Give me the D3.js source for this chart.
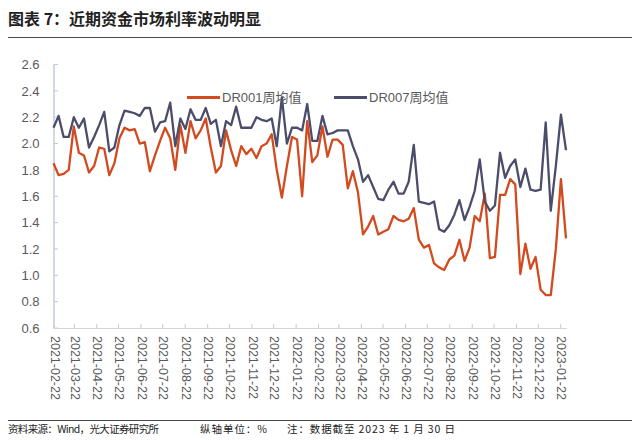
<!DOCTYPE html>
<html>
<head>
<meta charset="utf-8">
<script src="https://cdn.jsdelivr.net/npm/d3@7"></script>
<style>
  body { margin: 0; background: #fff; }
  text { font-family: "Liberation Sans", Arial, "Noto Sans CJK SC", sans-serif; }
</style>
</head>
<body>
<div id="chart"></div>
<script>

// weekly averages, first week 2021-02-22, one value per week
var firstWeek = "2021-02-22";

var dr001 = [1.85, 1.76, 1.77, 1.80, 2.13, 1.93, 1.91, 1.78, 1.83, 1.97,
             1.96, 1.76, 1.85, 2.04, 2.12, 2.10, 2.11, 2.00, 2.01, 1.79,
             1.91, 2.02, 2.12, 2.04, 1.80, 2.14, 1.93, 2.17, 2.04, 2.10,
             2.19, 1.97, 1.78, 1.83, 2.10, 1.95, 1.83, 1.98, 1.92, 1.96,
             1.89, 1.98, 2.00, 2.07, 1.80, 1.59, 1.83, 2.05, 2.03, 1.60,
             2.17, 1.86, 1.91, 2.13, 1.90, 2.03, 2.03, 1.99, 1.66, 1.79,
             1.63, 1.31, 1.37, 1.45, 1.31, 1.33, 1.35, 1.45, 1.42, 1.41,
             1.43, 1.51, 1.27, 1.21, 1.23, 1.09, 1.06, 1.04, 1.12, 1.15,
             1.27, 1.11, 1.21, 1.45, 1.41, 1.62, 1.13, 1.14, 1.61, 1.61,
             1.73, 1.69, 1.01, 1.24, 1.05, 1.14, 0.89, 0.85, 0.85, 1.20,
             1.73, 1.28];

var dr007 = [2.12, 2.21, 2.05, 2.05, 2.20, 2.12, 2.19, 1.97, 2.05, 2.14,
             2.24, 1.94, 1.97, 2.14, 2.25, 2.24, 2.23, 2.21, 2.27, 2.27,
             2.09, 2.16, 2.17, 2.31, 1.98, 2.19, 2.11, 2.26, 2.18, 2.18,
             2.27, 2.15, 2.18, 1.98, 2.17, 2.14, 2.28, 2.12, 2.12, 2.12,
             2.20, 2.18, 2.17, 2.19, 1.98, 2.35, 2.00, 2.12, 2.12, 2.10,
             2.30, 2.02, 2.02, 2.21, 2.07, 2.08, 2.10, 2.10, 2.10, 1.98,
             1.88, 1.71, 1.76, 1.67, 1.58, 1.57, 1.65, 1.71, 1.62, 1.62,
             1.71, 1.99, 1.56, 1.55, 1.54, 1.56, 1.35, 1.33, 1.38, 1.46,
             1.57, 1.42, 1.52, 1.64, 1.88, 1.56, 1.49, 1.53, 1.93, 1.74,
             1.83, 1.88, 1.67, 1.81, 1.65, 1.64, 1.65, 2.16, 1.49, 1.83,
             2.22, 1.95];

var tickLabels = ["2021-02-22", "2021-03-22", "2021-04-22", "2021-05-22", "2021-06-22",
                  "2021-07-22", "2021-08-22", "2021-09-22", "2021-10-22", "2021-11-22",
                  "2021-12-22", "2022-01-22", "2022-02-22", "2022-03-22", "2022-04-22",
                  "2022-05-22", "2022-06-22", "2022-07-22", "2022-08-22", "2022-09-22",
                  "2022-10-22", "2022-11-22", "2022-12-22", "2023-01-22"];

var yTicks = [0.6, 0.8, 1.0, 1.2, 1.4, 1.6, 1.8, 2.0, 2.2, 2.4, 2.6];

var seriesNames = ["DR001周均值", "DR007周均值"];
var colors = ["#d24a1e", "#4b4d6b"];

var title = "图表 7：近期资金市场利率波动明显";
var source = "资料来源：Wind，光大证券研究所";
var unit = "纵轴单位：%";
var note = "注：数据截至 2023 年 1 月 30 日";

var parse = d3.timeParse("%Y-%m-%d");
var start = parse(firstWeek);
var dates = dr001.map(function(d, i) { return d3.timeDay.offset(start, i * 7); });

var width = 640, height = 440;

var svg = d3.select("#chart")
  .append("svg")
    .attr("width", width)
    .attr("height", height);

// header
svg.append("text")
    .attr("x", 8)
    .attr("y", 25)
    .style("font-size", "16px")
    .style("font-weight", "bold")
    .style("font-family", "'Noto Sans CJK SC', sans-serif")
    .attr("fill", "#222")
    .text(title);

svg.append("line")
    .attr("x1", 8).attr("x2", 632)
    .attr("y1", 37.5).attr("y2", 37.5)
    .attr("stroke", "#4a4a4a")
    .attr("stroke-width", 1.2);

// scales
var x = d3.scaleTime()
    .domain([start, dates[dates.length - 1]])
    .range([53.5, 566]);

var y = d3.scaleLinear()
    .domain([0.6, 2.6])
    .range([328, 64.5]);

// y axis
var yAxis = svg.append("g")
    .attr("transform", "translate(53.5,0)")
    .call(d3.axisLeft(y).tickValues(yTicks).tickFormat(d3.format(".1f")).tickSize(0).tickPadding(14));
yAxis.select(".domain").attr("stroke", "#9fb4cc").attr("stroke-width", 1);
yAxis.selectAll("text")
    .attr("fill", "#595959")
    .style("font-size", "13px");

svg.append("g")
  .selectAll("line")
  .data(yTicks)
  .enter()
  .append("line")
    .attr("x1", 53.5).attr("x2", 58)
    .attr("y1", function(d) { return y(d); })
    .attr("y2", function(d) { return y(d); })
    .attr("stroke", "#c8c8c8");

// x axis
var xTickDates = tickLabels.map(parse);
var xAxis = svg.append("g")
    .attr("transform", "translate(0,328)")
    .call(d3.axisBottom(x).tickValues(xTickDates).tickFormat(d3.timeFormat("%Y-%m-%d")).tickSizeInner(-4).tickSizeOuter(0));
xAxis.select(".domain").attr("stroke", "#d4d4d4");
xAxis.selectAll(".tick line").attr("stroke", "#c8c8c8");
xAxis.selectAll("text")
    .attr("fill", "#595959")
    .style("font-size", "12.5px")
    .attr("text-anchor", "start")
    .attr("dy", "0.35em")
    .attr("transform", "translate(1,8) rotate(90)")
    .attr("x", 0)
    .attr("y", 0);

// lines
var line = d3.line()
    .x(function(d) { return x(d.date); })
    .y(function(d) { return y(d.value); });

[dr001, dr007].forEach(function(values, k) {
    var data = values.map(function(v, i) { return {date: dates[i], value: v}; });
    svg.append("path")
        .datum(data)
        .attr("fill", "none")
        .attr("stroke", colors[k])
        .attr("stroke-width", 2.3)
        .attr("stroke-linejoin", "round")
        .attr("d", line);
});

// legend
var legendX = [187, 334];
seriesNames.forEach(function(name, k) {
    svg.append("line")
        .attr("x1", legendX[k]).attr("x2", legendX[k] + 33)
        .attr("y1", 97.5).attr("y2", 97.5)
        .attr("stroke", colors[k])
        .attr("stroke-width", 3);
    svg.append("text")
        .attr("x", legendX[k] + 35)
        .attr("y", 102)
        .attr("fill", "#595959")
        .style("font-size", "13px")
        .text(name);
});

// footer
svg.append("line")
    .attr("x1", 8).attr("x2", 632)
    .attr("y1", 420.5).attr("y2", 420.5)
    .attr("stroke", "#4a4a4a")
    .attr("stroke-width", 1.2);

// footer pieces stretched to the widths they take in the source
var footX = [8, 200, 287], footW = [151, 67, 168];
[source, unit, note].forEach(function(t, k) {
    svg.append("text")
        .attr("x", footX[k])
        .attr("y", 433)
        .attr("fill", "#222")
        .attr("textLength", footW[k])
        .attr("lengthAdjust", "spacing")
        .style("font-size", "10.5px")
        .style("font-family", "'Noto Sans CJK SC', sans-serif")
        .text(t);
});

</script>
</body>
</html>
